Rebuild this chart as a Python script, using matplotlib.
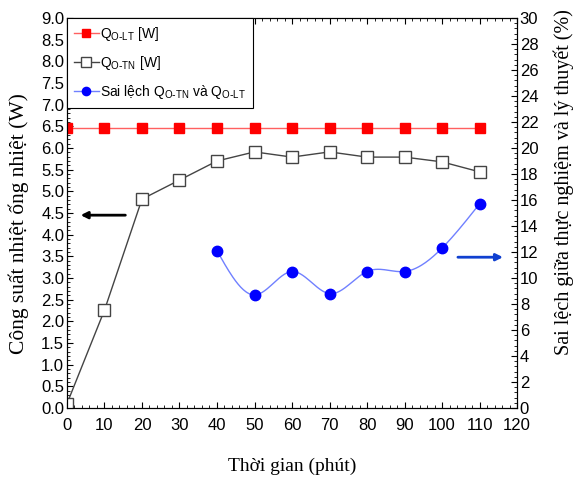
import numpy as np
import matplotlib
matplotlib.use('Agg')
import matplotlib.pyplot as plt
from matplotlib.ticker import MultipleLocator

plt.rcParams['font.family'] = ['Liberation Sans Narrow', 'Liberation Sans', 'DejaVu Sans']
plt.rcParams['mathtext.default'] = 'regular'

# data
t_lt = [0, 10, 20, 30, 40, 50, 60, 70, 80, 90, 100, 110]
q_lt = [6.47] * 12
t_tn = [0, 10, 20, 30, 40, 50, 60, 70, 80, 90, 100, 110]
q_tn = [0.1, 2.26, 4.82, 5.26, 5.70, 5.91, 5.79, 5.91, 5.79, 5.79, 5.68, 5.45]
t_err = [40, 50, 60, 70, 80, 90, 100, 110]
err = [12.1, 8.7, 10.5, 8.8, 10.5, 10.5, 12.3, 15.7]


def smooth(x, y, num=200):
  # natural cubic spline, only for drawing the line
  x = np.asarray(x, float)
  y = np.asarray(y, float)
  n = len(x)
  h = np.diff(x)
  A = np.zeros((n, n))
  r = np.zeros(n)
  A[0, 0] = 1
  A[-1, -1] = 1
  for i in range(1, n - 1):
    A[i, i - 1] = h[i - 1]
    A[i, i] = 2 * (h[i - 1] + h[i])
    A[i, i + 1] = h[i]
    r[i] = 6 * ((y[i + 1] - y[i]) / h[i] - (y[i] - y[i - 1]) / h[i - 1])
  m = np.linalg.solve(A, r)
  xs = np.linspace(x[0], x[-1], num)
  ys = np.zeros(num)
  for j, xv in enumerate(xs):
    i = min(np.searchsorted(x, xv, side='right') - 1, n - 2)
    a = x[i + 1] - xv
    b = xv - x[i]
    ys[j] = (m[i] * a**3 + m[i + 1] * b**3) / (6 * h[i]) \
      + (y[i] / h[i] - m[i] * h[i] / 6) * a + (y[i + 1] / h[i] - m[i + 1] * h[i] / 6) * b
  return xs, ys


fig = plt.figure(figsize=(5.76, 4.9), dpi=100)
ax = fig.add_axes([0.1163, 0.1673, 0.7813, 0.796])
ax2 = ax.twinx()

l1, = ax.plot(t_lt, q_lt, color='#ff6060', lw=1, marker='s', ms=7,
              mfc='red', mec='red', label=r'Q$_{O\text{-}LT}$ [W]')
l2, = ax.plot(t_tn, q_tn, color='#444444', lw=1, marker='s', ms=9,
              mfc='white', mec='#444444', label=r'Q$_{O\text{-}TN}$ [W]')
xs, ys = smooth(t_err, err)
ax2.plot(xs, ys, color='#7080ff', lw=1)
ax2.plot(t_err, err, ls='none', marker='o', ms=7.5, mfc='blue', mec='blue')
l3, = ax2.plot([], [], color='#7080ff', lw=1, marker='o', ms=7, mfc='blue', mec='blue',
               label=r'Sai lệch Q$_{O\text{-}TN}$ và Q$_{O\text{-}LT}$')

ax.set_xlim(0, 120)
ax.set_ylim(0, 9)
ax2.set_ylim(0, 30)
ax.xaxis.set_major_locator(MultipleLocator(10))
ax.xaxis.set_minor_locator(MultipleLocator(2))
ax.yaxis.set_major_locator(MultipleLocator(0.5))
ax.yaxis.set_minor_locator(MultipleLocator(0.1))
ax2.yaxis.set_major_locator(MultipleLocator(2))
ax2.yaxis.set_minor_locator(MultipleLocator(0.4))
ax.yaxis.set_major_formatter(matplotlib.ticker.FormatStrFormatter('%.1f'))

ax.tick_params(which='both', direction='in', top=True, labelsize=12, pad=2)
ax.tick_params(axis='x', which='both', pad=7)
ax.tick_params(which='major', length=4)
ax.tick_params(which='minor', length=2)
ax2.tick_params(which='both', direction='in', labelsize=12, pad=2)
ax2.tick_params(which='major', length=4)
ax2.tick_params(which='minor', length=2)

ax.set_xlabel('Thời gian (phút)', family='Liberation Serif', fontsize=14, labelpad=18)
ax.set_ylabel('Công suất nhiệt ống nhiệt (W)', family='Liberation Serif', fontsize=15.5)
ax.yaxis.set_label_coords(-0.085, 0.474)
ax2.set_ylabel('Sai lệch giữa thực nghiệm và lý thuyết (%)', family='Liberation Serif',
               fontsize=14.5, rotation=90)
ax2.yaxis.set_label_coords(1.082, 0.58)

ax.annotate('', xy=(2.9, 4.45), xytext=(16.3, 4.45),
            arrowprops=dict(arrowstyle='-|>', color='black', lw=2, mutation_scale=10))
ax2.annotate('', xy=(117, 11.6), xytext=(103.5, 11.6),
             arrowprops=dict(arrowstyle='-|>', color='#1040d0', lw=2, mutation_scale=10))

leg = ax2.legend(handles=[l1, l2, l3], loc='upper left', fontsize=10, fancybox=False,
                 edgecolor='black', borderaxespad=0, handlelength=1.8, handletextpad=0.1,
                 labelspacing=0.8, borderpad=0.5, framealpha=1, markerscale=0.85)
leg.get_frame().set_linewidth(0.8)

plt.savefig('out.png', dpi=100)
